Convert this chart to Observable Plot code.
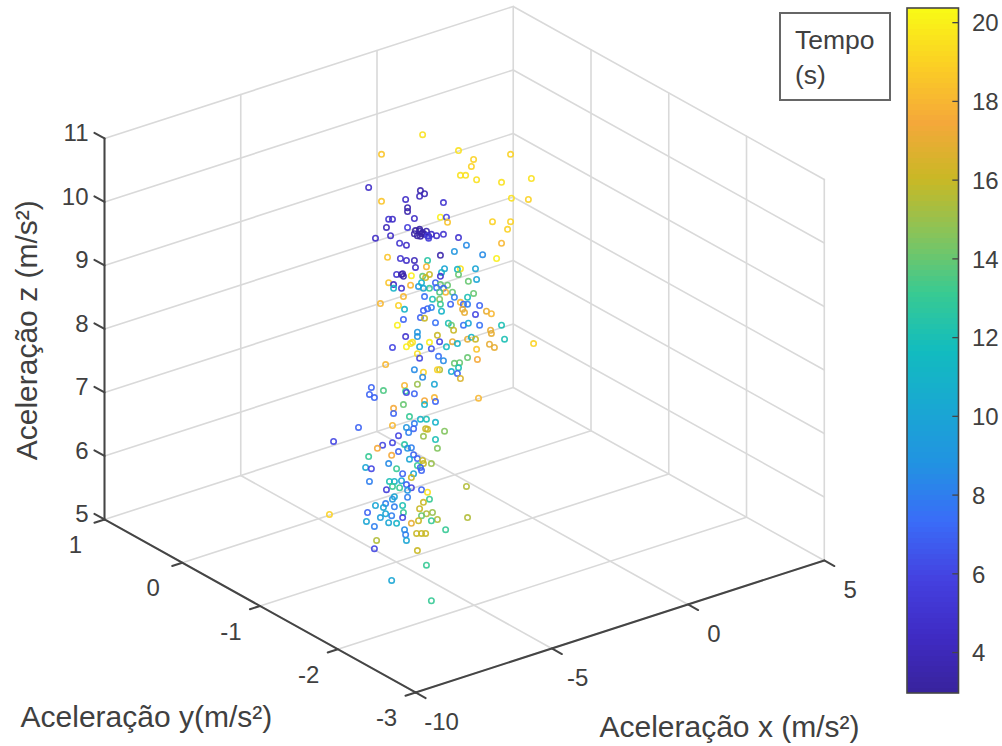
<!DOCTYPE html>
<html><head><meta charset="utf-8">
<script src="https://cdn.jsdelivr.net/npm/d3@7"></script>
<script src="https://cdn.jsdelivr.net/npm/@observablehq/plot@0.6"></script>
<style>
html,body{margin:0;padding:0;background:#fff;overflow:hidden}
#wrap{position:relative;width:1002px;height:746px;font-family:"Liberation Sans",Arial,sans-serif}
#wrap svg{position:absolute;left:0;top:0;background:transparent}
#legend{position:absolute;left:779px;top:12px;width:108px;height:85px;border:2px solid #666;box-sizing:content-box;color:#404040;font-size:26.5px;line-height:35px;padding:0;background:#fff}
#legend div{padding-left:14px}
#legend div:first-child{margin-top:9px}
</style></head><body>
<div id="wrap"></div>
<script>
// Points, in view-plane units:
// vistaH = horizontal position in x-axis units from the left corner, vistaZ = height read on the left z axis.
const vistaH = [
11.61,10.11,12.92,14.82,13.47,13.39,12.99,13.18,13.58,14.49,
15.58,14.85,15.47,10.11,9.64,11.53,11.68,11.50,10.99,12.37,
11.06,11.06,11.31,12.26,12.48,12.52,14.16,14.82,14.71,10.37,
10.51,10.29,11.06,10.44,9.89,12.92,12.37,12.12,11.93,11.35,
11.50,11.61,11.42,11.53,11.68,11.75,11.31,11.57,11.83,11.50,
11.79,10.77,11.02,11.83,13.21,14.49,12.77,13.80,14.31,10.33,
10.80,11.02,11.31,12.26,11.79,11.35,11.75,12.41,13.54,12.99,
12.88,12.30,10.66,10.88,10.91,10.84,11.20,12.92,13.58,13.28,
11.86,11.61,12.26,11.72,10.37,10.55,10.84,11.17,10.55,11.46,
11.57,12.08,12.26,12.52,12.12,12.37,11.86,11.64,13.47,13.25,
12.70,12.45,12.23,10.91,11.68,11.97,12.23,12.77,12.99,13.10,
13.25,13.69,12.63,12.26,10.07,10.73,10.95,11.79,11.93,11.64,
12.30,13.14,13.54,13.94,14.12,13.07,10.91,10.69,11.53,11.68,
12.08,12.55,12.66,12.74,13.10,13.28,13.69,14.49,14.09,14.12,
10.99,11.42,11.42,12.15,12.23,12.70,12.88,13.25,13.39,13.54,
14.60,15.66,10.51,11.02,11.24,11.17,11.50,11.86,11.93,12.48,
14.05,14.23,13.58,11.42,11.50,12.19,12.37,13.25,13.61,10.26,
12.77,12.96,12.92,11.31,11.64,12.23,12.15,12.66,12.88,11.61,
12.99,11.42,12.04,10.95,9.74,10.18,9.67,9.85,10.99,11.02,
11.31,11.68,12.04,13.65,11.68,12.08,10.55,10.55,10.91,11.13,
9.27,8.36,10.51,11.02,11.31,11.53,11.75,12.08,11.28,11.10,
10.73,11.72,11.79,11.64,12.41,12.08,12.15,10.15,10.51,9.96,
10.95,11.06,11.20,10.73,10.48,9.64,11.28,11.13,11.42,10.37,
11.61,11.64,11.93,9.53,9.74,10.66,11.42,11.53,9.67,11.57,
11.28,11.20,10.88,10.40,10.58,10.84,11.02,11.20,10.51,10.77,
10.29,11.06,11.57,11.79,13.21,10.58,10.51,11.06,11.86,11.64,
9.89,10.26,10.18,10.88,10.58,11.50,9.60,10.91,11.97,11.75,
11.57,10.07,10.48,10.88,10.26,12.15,11.93,13.25,9.56,10.37,
10.66,11.46,11.20,9.85,10.95,12.45,11.39,11.57,11.72,10.99,
11.02,9.93,9.85,11.42,11.75,10.48,11.93,8.21];
const vistaZ = [
11.06,10.75,10.81,10.75,10.67,10.56,10.42,10.42,10.35,10.31,
10.37,10.06,10.04,10.01,10.23,10.18,10.13,10.09,10.04,9.99,
9.91,9.85,9.74,9.76,9.76,9.68,9.69,9.69,9.57,9.73,
9.73,9.60,9.60,9.47,9.43,9.44,9.49,9.47,9.49,9.55,
9.57,9.52,9.47,9.46,9.49,9.54,9.50,9.50,9.46,9.54,
9.47,9.35,9.32,9.43,9.32,9.35,9.22,9.17,9.11,9.13,
9.11,9.08,9.08,9.16,9.08,8.97,8.98,8.95,8.95,8.95,
8.94,8.89,8.86,8.87,8.83,8.86,8.84,8.86,8.78,8.75,
8.86,8.83,8.83,8.81,8.73,8.70,8.64,8.69,8.64,8.67,
8.73,8.73,8.70,8.69,8.65,8.64,8.64,8.64,8.56,8.50,
8.58,8.58,8.58,8.51,8.51,8.47,8.47,8.50,8.42,8.39,
8.39,8.37,8.39,8.39,8.40,8.37,8.31,8.32,8.34,8.29,
8.28,8.26,8.23,8.28,8.24,8.31,8.15,8.06,8.18,8.17,
8.10,8.09,8.06,7.98,8.06,8.09,8.06,8.06,7.98,7.93,
7.88,7.95,7.88,7.90,7.80,7.80,7.77,7.84,7.87,7.84,
7.84,7.77,7.71,7.72,7.79,7.77,7.72,7.79,7.69,7.72,
7.76,7.71,7.68,7.61,7.54,7.57,7.50,7.55,7.52,7.44,
7.46,7.47,7.39,7.36,7.32,7.36,7.36,7.33,7.30,7.24,
7.22,7.13,7.13,7.11,7.08,7.03,6.97,6.92,7.02,7.00,
6.98,6.87,6.92,6.91,6.81,6.86,6.75,6.67,6.81,6.62,
6.45,6.23,6.48,6.45,6.51,6.58,6.58,6.53,6.43,6.37,
6.32,6.43,6.42,6.31,6.39,6.26,6.12,6.17,6.21,6.12,
6.18,6.12,6.13,6.07,6.01,5.99,6.02,5.95,5.96,5.88,
5.93,5.88,5.88,5.82,5.80,5.80,5.85,5.82,5.60,5.77,
5.72,5.66,5.72,5.60,5.60,5.61,5.55,5.50,5.52,5.50,
5.47,5.46,5.47,5.43,5.52,5.36,5.32,5.35,5.32,5.27,
5.22,5.25,5.19,5.22,5.20,5.17,5.11,5.11,5.11,5.09,
5.06,5.03,5.06,5.03,5.09,5.00,4.98,5.03,4.97,4.95,
4.94,4.98,4.94,4.89,4.84,4.84,4.78,4.78,4.78,4.76,
4.67,4.67,4.54,4.51,4.28,4.04,3.72,5.08];
const tempo = [
19.5,18.5,19.5,19,19,19,19.5,19.5,19.5,19.5,
19.5,19.5,19,18.5,4.5,3.5,3.8,4,4.5,5,
3.5,3.5,4.5,20,6,18.5,19,19,19,5,
4.5,4,5.5,4.5,4.5,5,5,4.5,4.5,3.2,
3.2,3.3,3.3,3.2,3.4,3.5,3.3,3.2,3.6,3.3,
5.5,5,4.5,5.5,8.5,18,9,8.5,20,18.5,
5,4.5,4,3.5,12.5,4.5,18,10,10,19.5,
11,11,5,4,3.5,3.5,20,14,10,14,
16,14,5,16,18.5,4.5,5,18,11,9,
11,7,14,14,7.5,7,13,10,14,12,
14,18,13.5,18,7.5,12,14.5,8,18,7,
8,7,7,13,18,19,11,7,8,7,
11,17,6,17,18,17,7,20,7,16,
7.5,12,14,16,7.5,10,7.5,12,17,17,
5,9,9,16,6,17,11,17,11,16,
12,19,6,20,19.5,19.5,10,20,6.5,11.5,
17,17,18.5,19.5,6,7.5,8.5,14,17.5,18,
14,14,12,8.5,19,15.5,19,10.5,7,8.5,
16.5,15,10,18,7,13.5,7,7,13,6,
7,17.5,18,18,11,7,17.5,7,14,13,
7,6,18,9,8,11,12,11,7,8,
6,16,16,15,14.5,12,14.5,6,6,17.5,
12.5,9,8,7,17.5,13,7,10,7,8.5,
16,16,15,10,6,13,13,7,8,7,
10,16,7,12,11,10,7,6,13,13,
5.5,9,7,19.5,15.5,10,9,8,13,16,
10,8,10,12,8,16,7,13,15,15.5,
14,9.5,8,6,10,15.5,13,15.5,10,10,
11,16,17,8,8.5,13,16,16,16,8,
10,15.5,6,16,13,10,13,19];

const xTicks = [-10,-5,0,5];
const yTicks = [1,0,-1,-2,-3];
const zTicks = [5,6,7,8,9,10,11];
const barTicks = [4,6,8,10,12,14,16,18,20];
const tempoDomain = [2.96,20.36];
const parula = ["#38239c","#3f2bc4","#4441e0","#3a6cf8","#2292e2","#19a8d2","#12bcbf","#38ca92","#85c45c","#c9b825","#f5a83a","#fbcf24","#f9fb15"];
const textColor = "#404040", gridColor = "#d9d9d9", axisColor = "#454545";

// Axonometric view of the 3-D axes (x, y, z in m/s²) onto the view plane.
const vh = (x,y) => (x+10)*0.9945 + (1-y)*2.838;
const vz = (x,y,z) => z + (x+10)*0.1386 - (1-y)*0.681;
const seg = (a,b) => [{h:vh(a[0],a[1]),v:vz(a[0],a[1],a[2]),k:a.join()+b.join()},{h:vh(b[0],b[1]),v:vz(b[0],b[1],b[2]),k:a.join()+b.join()}];

const grid = [
  ...xTicks.flatMap(x=>[seg([x,1,5],[x,-3,5]), seg([x,1,5],[x,1,11])]),
  ...yTicks.flatMap(y=>[seg([-10,y,5],[5,y,5]), seg([5,y,5],[5,y,11])]),
  ...zTicks.flatMap(z=>[seg([-10,1,z],[5,1,z]), seg([5,1,z],[5,-3,z])])
].flat();
const axes = [
  seg([-10,1,5],[-10,-3,5]), seg([-10,-3,5],[5,-3,5]), seg([-10,1,5],[-10,1,11]),
  ...xTicks.map(x=>seg([x,-3,5],[x,-3.13,5])),
  ...yTicks.map(y=>seg([-10,y,5],[-10.37,y,5])),
  ...zTicks.map(z=>seg([-10,1,z],[-10,1.13,z]))
].flat();

const pontos = tempo.map((t,i)=>({h:vistaH[i],v:vistaZ[i],t}));
const colorOpt = {type:"linear",domain:tempoDomain,interpolate:d3.piecewise(d3.interpolateRgb,parula)};
const font = {fontFamily:"Liberation Sans, Arial, sans-serif"};

const main = Plot.plot({
  width:1002,height:746,margin:0,
  x:{domain:[-3.796,32.774],range:[0,1002],axis:null},
  y:{domain:[13.173,1.425],range:[0,746],axis:null},
  color:colorOpt,
  style:{background:"transparent"},
  marks:[
    Plot.line(grid,{x:"h",y:"v",z:"k",stroke:gridColor,strokeWidth:1.6}),
    Plot.line(axes,{x:"h",y:"v",z:"k",stroke:axisColor,strokeWidth:2}),
    Plot.dot(pontos,{x:"h",y:"v",stroke:"t",r:2.7,strokeWidth:1.6,strokeOpacity:0.9,fill:"none"}),
    Plot.text(zTicks,{x:vh(-10,1),y:z=>z,text:String,textAnchor:"end",dx:-16,dy:-5,fontSize:24,fill:textColor,...font}),
    Plot.text(yTicks,{x:y=>vh(-10,y),y:y=>vz(-10,y,5),text:String,dx:-29,dy:26,fontSize:24,fill:textColor,...font}),
    Plot.text(xTicks,{x:x=>vh(x,-3),y:x=>vz(x,-3,5),text:String,dx:26,dy:30,fontSize:24,fill:textColor,...font}),
    Plot.text(["Aceleração y(m/s²)"],{x:1.53,y:1.88,text:String,fontSize:30,fill:textColor,...font}),
    Plot.text(["Aceleração x (m/s²)"],{x:22.81,y:1.72,text:String,fontSize:30,fill:textColor,...font}),
    Plot.text(["Aceleração z (m/s²)"],{x:-2.81,y:7.98,text:String,rotate:-90,fontSize:30,fill:textColor,...font})
  ]
});

const niveis = d3.range(0,128).map(i=>tempoDomain[0]+(tempoDomain[1]-tempoDomain[0])*i/128);
const passo = (tempoDomain[1]-tempoDomain[0])/128;
const bar = Plot.plot({
  width:1002,height:746,margin:0,
  x:{domain:[0,1],range:[907,958.5],axis:null},
  y:{domain:tempoDomain,range:[693,8],axis:null},
  color:colorOpt,
  style:{background:"transparent"},
  marks:[
    Plot.rect(niveis,{x1:0,x2:1,y1:d=>d,y2:d=>d+passo,fill:d=>d+passo/2,shapeRendering:"crispEdges"}),
    Plot.rect([0],{x1:0,x2:1,y1:tempoDomain[0],y2:tempoDomain[1],fill:"none",stroke:axisColor,strokeWidth:1.6}),
    Plot.ruleY(barTicks,{x1:0.88,x2:1,stroke:axisColor,strokeWidth:1.3}),
    Plot.text(barTicks,{x:1,y:d=>d,text:String,textAnchor:"start",dx:13,dy:1,fontSize:24,fill:textColor,...font})
  ]
});

const wrap = document.getElementById("wrap");
wrap.appendChild(main);
const legend = document.createElement("div");
legend.id="legend";
legend.innerHTML="<div>Tempo</div><div>(s)</div>";
wrap.appendChild(legend);
wrap.appendChild(bar);
</script>
</body></html>
